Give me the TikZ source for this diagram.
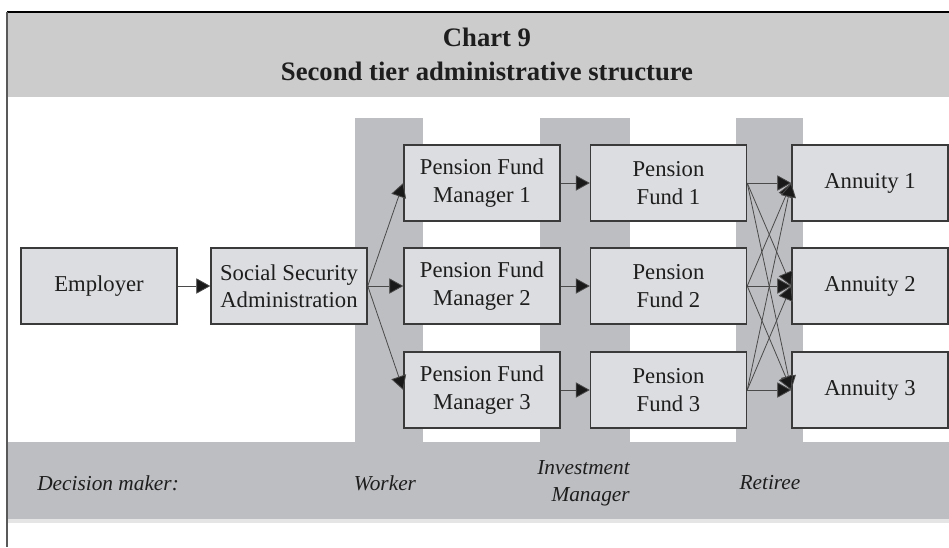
\documentclass[tikz,border=0pt]{standalone}
\usepackage{fontspec}
\setmainfont{Liberation Serif}
\usetikzlibrary{arrows.meta}
\definecolor{bandgray}{HTML}{CCCCCC}
\definecolor{stripgray}{HTML}{BDBEC2}
\definecolor{boxfill}{HTML}{DCDDE0}
\definecolor{boxline}{HTML}{3A3A3A}
\definecolor{linegray}{HTML}{4A4A4A}
\definecolor{textdark}{HTML}{1E1E1E}
\begin{document}
\begin{tikzpicture}[x=0.75pt,y=-0.75pt,
  box/.style={draw=boxline, line width=1.1pt, fill=boxfill,
    minimum width=117pt, minimum height=57pt, inner sep=0pt, align=center,
    font=\fontsize{17}{20.5}\selectfont, text=textdark},
  flow/.style={draw=linegray, line width=0.6pt,
    -{Triangle[length=10.5pt,width=11.5pt,fill=black!90]}},
  role/.style={font=\fontsize{16}{20}\selectfont\itshape, inner sep=0pt, text=textdark},
  heading/.style={font=\fontsize{20}{23}\selectfont\bfseries, inner sep=0pt, text=textdark}]
\useasboundingbox (0,0) rectangle (949,547);
\fill[white] (0,0) rectangle (949,547);

% title band and frame
\fill[bandgray] (8,13) rectangle (949,97);
\draw[black, line width=0.9pt] (7,12) -- (949,12);
\draw[black!65, line width=1.4pt] (7,12) -- (7,547);
\node[heading] (t1) at (487,37) {Chart 9};
\node[heading] (t2) at (487,71) {Second tier administrative structure};

% decision-maker columns and bottom band
\fill[stripgray] (355,118) rectangle (423,442);
\fill[stripgray] (540,118) rectangle (630,442);
\fill[stripgray] (736,118) rectangle (803,442);
\fill[stripgray] (8,442) rectangle (949,519);
\fill[black!10] (8,519) rectangle (949,523);

% boxes
\node[box] (emp) at (99,286) {Employer};
\node[box] (ssa) at (289,286) {Social Security\\Administration};
\node[box] (pfm1) at (482,183) {Pension Fund\\Manager 1};
\node[box] (pfm2) at (482,286) {Pension Fund\\Manager 2};
\node[box] (pfm3) at (482,390) {Pension Fund\\Manager 3};
\node[box] (pf1) at (668.5,183) {Pension\\Fund 1};
\node[box] (pf2) at (668.5,286) {Pension\\Fund 2};
\node[box] (pf3) at (668.5,390) {Pension\\Fund 3};
\node[box] (ann1) at (870,183) {Annuity 1};
\node[box] (ann2) at (870,286) {Annuity 2};
\node[box] (ann3) at (870,390) {Annuity 3};

% connectors
\draw[flow] (emp.east) -- (ssa.west);
\foreach \i in {1,2,3} {
  \draw[flow] (ssa.east) -- (pfm\i.west);
  \draw[flow] (pfm\i.east) -- (pf\i.west);
  \foreach \j in {1,2,3} {
    \draw[flow] (pf\i.east) -- (ann\j.west);
  }
}

% decision makers
\node[role, anchor=west] (dm) at (37,483) {Decision maker:};
\node[role] (worker) at (385,483) {Worker};
\node[role, anchor=east, align=right] (inv) at (630,483) {Investment\\Manager};
\node[role] (ret) at (770,483) {Retiree};
\end{tikzpicture}
\end{document}
